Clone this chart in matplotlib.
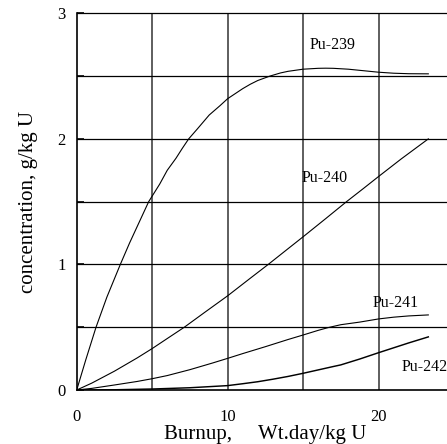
import matplotlib
matplotlib.use("Agg")
import matplotlib.pyplot as plt
import numpy as np

plt.rcParams['font.family'] = ['Liberation Serif', 'DejaVu Serif']

# Data (burnup, concentration g/kg U)
pu239_x = [0, 0.6, 1.28, 2.0, 2.89, 3.5, 4.0, 4.77, 5.5, 6.0, 6.58, 7.0, 7.42, 8.0, 8.78, 9.5, 10, 10.5, 11, 11.5, 12, 12.8, 13.5, 14, 15, 16, 16.5, 17, 18, 19, 20, 21, 22, 23.3]
pu239_y = [0, 0.24, 0.5, 0.74, 1.0, 1.17, 1.30, 1.5, 1.64, 1.75, 1.846, 1.925, 2.0, 2.08, 2.19, 2.265, 2.32, 2.36, 2.40, 2.435, 2.465, 2.50, 2.525, 2.538, 2.555, 2.562, 2.563, 2.562, 2.555, 2.543, 2.531, 2.523, 2.519, 2.518]

pu240_x = [0, 1, 2.5, 4, 5, 6, 7.13, 8.5, 10, 11.5, 12.69, 14, 15, 16.5, 17.88, 19, 20, 21.5, 23.3]
pu240_y = [0, 0.055, 0.15, 0.255, 0.33, 0.41, 0.5, 0.62, 0.75, 0.89, 1.0, 1.125, 1.22, 1.365, 1.5, 1.605, 1.70, 1.84, 2.0]

pu241_x = [0, 1, 2.5, 4, 5, 6, 7.5, 9, 10, 11, 12.5, 14, 15, 16, 16.66, 17.5, 18.76, 20, 21, 22, 23.3]
pu241_y = [0, 0.013, 0.04, 0.068, 0.09, 0.115, 0.162, 0.215, 0.252, 0.29, 0.345, 0.402, 0.438, 0.475, 0.497, 0.52, 0.541, 0.566, 0.58, 0.59, 0.598]

pu242_x = [0, 2.5, 5, 7.5, 10, 11, 12, 13, 14, 15, 16, 17, 17.5, 18.76, 20, 21, 22, 23.3]
pu242_y = [0, 0.002, 0.008, 0.018, 0.035, 0.05, 0.066, 0.086, 0.108, 0.133, 0.16, 0.187, 0.2, 0.247, 0.297, 0.336, 0.375, 0.423]

labels = ["Pu-239", "Pu-240", "Pu-241", "Pu-242"]
label_x = [15.45, 14.9, 19.6, 21.52]
label_y = [2.75, 1.69, 0.69, 0.18]

x_ticks = [0, 10, 20]
y_ticks = [0, 1, 2, 3]

fig = plt.figure(figsize=(4.47, 4.44), dpi=100)
ax = fig.add_axes([0.1716, 0.1216, 0.844, 0.8484])
ax.set_xlim(0, 25)
ax.set_ylim(0, 3)

# grid
for gx in [5, 10, 15, 20]:
    ax.axvline(gx, color='#333333', lw=1.1, zorder=1)
for gy in np.arange(0.5, 3.0, 0.5):
    ax.axhline(gy, color='black', lw=0.9, zorder=1)

series = [(pu239_x, pu239_y, 0.8), (pu240_x, pu240_y, 0.8),
          (pu241_x, pu241_y, 0.8), (pu242_x, pu242_y, 1.05)]
for xs, ys, lw in series:
    ax.plot(xs, ys, color='black', lw=lw, zorder=3,
            solid_joinstyle='round')

for t, lx, ly in zip(labels, label_x, label_y):
    ax.text(lx, ly, t, fontsize=11.5, ha='left', va='center', zorder=4)

ax.set_xticks(x_ticks)
ax.set_xticklabels([str(v) for v in x_ticks])
ax.set_yticks(y_ticks)
ax.set_yticklabels([str(v) for v in y_ticks])
ax.set_yticks(np.arange(0.5, 3.0, 1.0), minor=True)
ax.tick_params(axis='x', length=0, pad=14, labelsize=12)
ax.tick_params(axis='y', which='both', direction='in', length=5, width=1.2,
               right=True, labelsize=12, pad=8)
for s in ax.spines.values():
    s.set_linewidth(1.2)
ax.spines['top'].set_linewidth(0.9)

fig.text(29 / 447, (444 - 201.7) / 444, "concentration, g/kg U", fontsize=15,
         rotation=90, ha='center', va='center', color='black')

fig.text(265 / 447, (444 - 439) / 444, "Burnup,     Wt.day/kg U", fontsize=15,
         ha='center', va='baseline')

fig.savefig("out.png", dpi=100)
